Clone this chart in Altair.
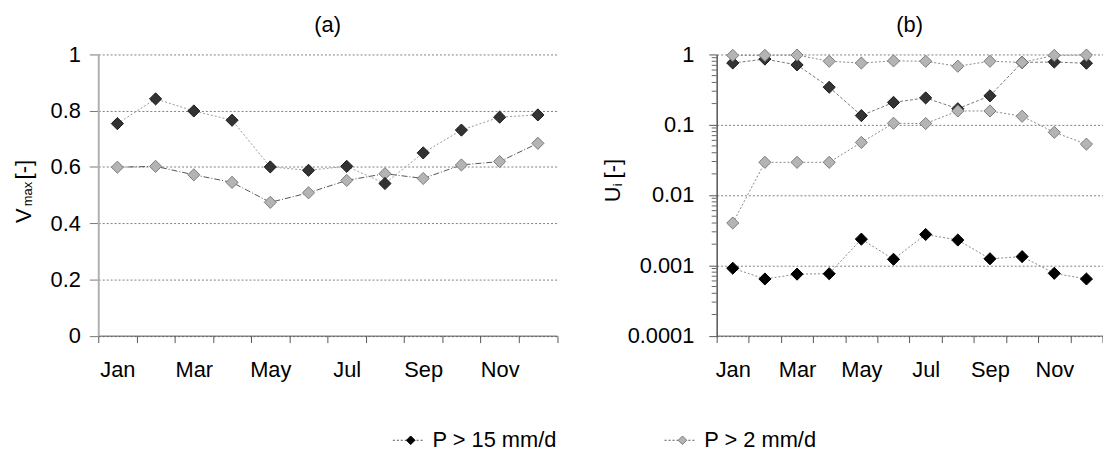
import json
import altair as alt
import pandas as pd

FONT = "Liberation Sans"

months = ["Jan", "Feb", "Mar", "Apr", "May", "Jun", "Jul", "Aug", "Sep", "Oct", "Nov", "Dec"]
shown_months = ["Jan", "Mar", "May", "Jul", "Sep", "Nov"]

# panel (a): V_max
vmax_p15 = [0.754, 0.842, 0.799, 0.766, 0.600, 0.588, 0.602, 0.541, 0.650, 0.731, 0.777, 0.785]
vmax_p2 = [0.599, 0.602, 0.572, 0.545, 0.474, 0.508, 0.552, 0.576, 0.559, 0.607, 0.619, 0.684]

# panel (b): U_i (two curves per threshold)
ui_p15_high = [0.755, 0.86, 0.71, 0.342, 0.135, 0.208, 0.241, 0.169, 0.258, 0.77, 0.78, 0.75]
ui_p15_low = [0.00091, 0.00064, 0.00075, 0.00076, 0.00236, 0.00122, 0.00275, 0.00229, 0.00124, 0.00133, 0.00077, 0.00064]
ui_p2_high = [0.97, 0.97, 0.98, 0.80, 0.755, 0.81, 0.80, 0.68, 0.80, 0.77, 0.97, 0.98]
ui_p2_low = [0.0040, 0.0292, 0.0292, 0.0292, 0.056, 0.105, 0.104, 0.157, 0.157, 0.132, 0.078, 0.053]

ticks_a = [0, 0.2, 0.4, 0.6, 0.8, 1]
ticks_b = [0.0001, 0.001, 0.01, 0.1, 1]
minor_b = [0.0002, 0.0003, 0.0004, 0.0005, 0.0006, 0.0007, 0.0008, 0.0009,
           0.002, 0.003, 0.004, 0.005, 0.006, 0.007, 0.008, 0.009,
           0.02, 0.03, 0.04, 0.05, 0.06, 0.07, 0.08, 0.09,
           0.2, 0.3, 0.4, 0.5, 0.6, 0.7, 0.8, 0.9]

legend_labels = ["P > 15 mm/d", "P > 2 mm/d"]
panel_titles = ["(a)", "(b)"]
ytitle_a = ["V", "max", "[-]"]
ytitle_b = ["U", "i", "[-]"]

W_A, W_B, H = 462.5, 389, 283.5
FS = 22

DARK_FILL, DARK_STROKE = "#333333", "#1a1a1a"
BLACK_FILL = "#000000"
GRAY_FILL, GRAY_STROKE = "#b4b4b4", "#7a7a7a"


def frame(vals):
    return pd.DataFrame({"month": months, "value": vals})


label_expr = "indexof(%s, datum.value) >= 0 ? datum.value : ''" % json.dumps(shown_months)


def xenc():
    return alt.X(
        "month:N", sort=months, bandPosition=0.5,
        scale=alt.Scale(type="band", paddingInner=0, paddingOuter=0),
        axis=alt.Axis(title=None, tickBand="extent", labelExpr=label_expr, labelAngle=0,
                      tickSize=7, tickColor="#555555", domainColor="#555555", domainWidth=1,
                      labelFontSize=FS, labelFont=FONT, labelColor="#000000",
                      labelPadding=17, grid=False),
    )


ya = alt.Y(
    "value:Q", scale=alt.Scale(domain=[0, 1], nice=False, zero=False),
    axis=alt.Axis(title=None, values=ticks_a, labelExpr="format(datum.value, '~g')",
                  grid=True, gridDash=[2, 2], gridColor="#808080", gridWidth=1,
                  tickSize=9, tickColor="#777777", domainColor="#b0b0b0", domainWidth=2,
                  labelFontSize=FS, labelFont=FONT, labelColor="#000000", labelPadding=9),
)

yb = alt.Y(
    "value:Q", scale=alt.Scale(type="log", domain=[0.0001, 1], nice=False),
    axis=alt.Axis(title=None, values=ticks_b, labelExpr="format(datum.value, '.4~f')",
                  grid=True, gridDash=[2, 2], gridColor="#808080", gridWidth=1,
                  tickSize=8, tickColor="#555555", domainColor="#555555", domainWidth=1.5,
                  labelFontSize=FS, labelFont=FONT, labelColor="#000000", labelPadding=15),
)


def line(vals, y, color, dash):
    return alt.Chart(frame(vals)).mark_line(color=color, strokeDash=dash, strokeWidth=1).encode(
        x=xenc(), y=y)


def pts(vals, y, fill, stroke):
    return alt.Chart(frame(vals)).mark_point(
        shape="diamond", filled=True, size=150, fill=fill, stroke=stroke,
        strokeWidth=1, opacity=1).encode(x=xenc(), y=y)


def txt(s, x, y, size, angle=0, align="left", baseline="alphabetic"):
    return alt.Chart(pd.DataFrame({"t": [s]})).mark_text(
        text=s, font=FONT, fontSize=size, angle=angle, align=align, baseline=baseline,
        color="#000000").encode(x=alt.value(x), y=alt.value(y))


def leg_item(label, cx, cy, fill, stroke):
    one = pd.DataFrame({"t": [label]})
    rule = alt.Chart(one).mark_rule(color="#555555", strokeDash=[2, 2], strokeWidth=1).encode(
        x=alt.value(cx - 18), x2=alt.value(cx + 13), y=alt.value(cy))
    sym = alt.Chart(one).mark_point(shape="diamond", filled=True, size=75, fill=fill,
                                    stroke=stroke, strokeWidth=1, opacity=1).encode(
        x=alt.value(cx), y=alt.value(cy))
    lab = txt(label, cx + 22, cy, FS, baseline="middle")
    return [rule, sym, lab]


panel_a = alt.layer(
    line(vmax_p15, ya, "#9a9a9a", [2, 2]),
    line(vmax_p2, ya, "#555555", [6, 2, 1, 2]),
    pts(vmax_p2, ya, GRAY_FILL, GRAY_STROKE),
    pts(vmax_p15, ya, DARK_FILL, DARK_STROKE),
    txt(panel_titles[0], W_A / 2, -23, FS, align="center"),
    txt(ytitle_a[0], -67.5, 170, FS, angle=270),
    txt(ytitle_a[1], -66.5, 153, 13, angle=270),
    txt(ytitle_a[2], -67.5, 126, FS, angle=270),
    *leg_item(legend_labels[0], 315, 389, BLACK_FILL, BLACK_FILL),
    *leg_item(legend_labels[1], 589, 389, GRAY_FILL, GRAY_STROKE),
).properties(width=W_A, height=H)

panel_b = alt.layer(
    alt.Chart(pd.DataFrame({"value": minor_b})).mark_rule(color="#666666", strokeWidth=1).encode(
        y=yb, x=alt.value(-5), x2=alt.value(0)),
    line(ui_p15_high, yb, "#777777", [3, 2]),
    line(ui_p15_low, yb, "#888888", [2, 2]),
    line(ui_p2_high, yb, "#888888", [2, 2]),
    line(ui_p2_low, yb, "#888888", [2, 2]),
    pts(ui_p15_low, yb, BLACK_FILL, BLACK_FILL),
    pts(ui_p15_high, yb, DARK_FILL, DARK_STROKE),
    pts(ui_p2_low, yb, GRAY_FILL, GRAY_STROKE),
    pts(ui_p2_high, yb, GRAY_FILL, GRAY_STROKE),
    txt(panel_titles[1], W_B / 2, -23, FS, align="center"),
    txt(ytitle_b[0], -97.5, 149, FS, angle=270),
    txt(ytitle_b[1], -95.5, 133, 13, angle=270),
    txt(ytitle_b[2], -97.5, 125, FS, angle=270),
).properties(width=W_B, height=H)

chart = alt.hconcat(panel_a, panel_b, spacing=160.5, bounds="flush").properties(
    padding={"left": 5, "top": 4, "right": 0, "bottom": 0},
    background="white",
).configure_view(stroke=None)

chart.save("out.html", embed_options={"renderer": "svg", "actions": False})
